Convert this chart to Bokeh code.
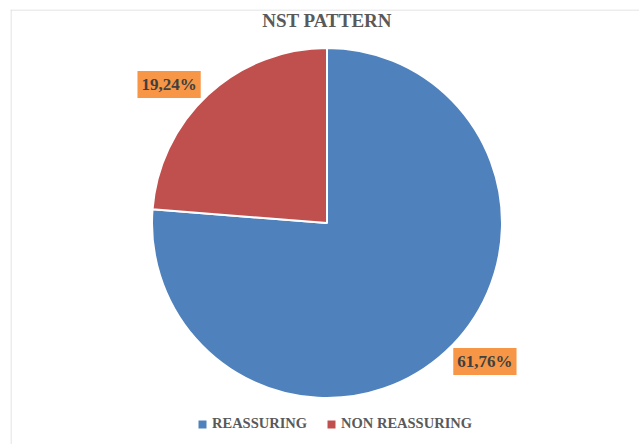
import math
from bokeh.plotting import figure
from bokeh.models import ColumnDataSource, Range1d, Span, Label, Legend, LegendItem
from bokeh.core.properties import value
from bokeh.embed import file_html
from bokeh.resources import INLINE

# ---- data ----
categories = ["REASSURING", "NON REASSURING"]
percentages = [61.76, 19.24]
label_texts = ["61,76%", "19,24%"]
colors = ["#4F81BD", "#C0504D"]
title_text = "NST PATTERN"

# ---- layout constants ----
FONT = "Liberation Serif"
W, H = 639, 444
FW, FH = 629, 435          # frame size in px (data units == px)
CX, CY, R = 316.5, 221.5, 175.0
LABEL_R = 1.2
LABEL_NUDGE = math.radians(6)

total = sum(percentages)
starts, ends, lx, ly = [], [], [], []
cur = math.pi / 2
for v in percentages:
    a0 = cur - v / total * 2 * math.pi
    starts.append(a0)
    ends.append(cur)
    mid = (a0 + cur) / 2 + LABEL_NUDGE
    lx.append(CX + LABEL_R * R * math.cos(mid))
    ly.append(CY + LABEL_R * R * math.sin(mid))
    cur = a0

src = ColumnDataSource(dict(cat=categories, val=percentages, start=starts, end=ends,
                            color=colors, lx=lx, ly=ly, label=label_texts))

p = figure(width=W, height=H, x_range=Range1d(0, FW), y_range=Range1d(0, FH),
           x_axis_type=None, y_axis_type=None, output_backend="svg",
           toolbar_location=None, min_border_left=10, min_border_top=9,
           min_border_right=0, min_border_bottom=0)
p.grid.visible = False
p.outline_line_color = None
p.background_fill_color = "white"
p.border_fill_color = "white"

p.wedge(x=CX, y=CY, radius=R, start_angle="start", end_angle="end",
        fill_color="color", line_color="white", line_width=2, source=src)

p.text(x="lx", y="ly", text="label", source=src, text_align="center",
       text_baseline="middle", text_font=value(FONT), text_font_style="bold",
       text_font_size="17px", text_color="#404040",
       background_fill_color="#F79646", padding=4)

# chart border (left and top visible)
p.add_layout(Span(location=0.5, dimension="height", line_color="#D9D9D9", line_width=1))
p.add_layout(Span(location=FH - 0.5, dimension="width", line_color="#D9D9D9", line_width=1))

p.add_layout(Label(x=CX, y=424, text=title_text, text_align="center",
                   text_baseline="middle", text_font=FONT, text_font_style="bold",
                   text_font_size="19px", text_color="#595959"))

items = []
for c, col in zip(categories, colors):
    r = p.quad(left=[math.nan], right=[math.nan], top=[math.nan], bottom=[math.nan],
               fill_color=col, line_color=None)
    items.append(LegendItem(label=c, renderers=[r]))
legend = Legend(items=items, location=(187, 12), orientation="horizontal",
                border_line_color=None, background_fill_alpha=0, padding=0, margin=0,
                spacing=19, label_standoff=5, glyph_width=10, glyph_height=10,
                label_text_font=FONT, label_text_font_size="14.5px",
                label_text_font_style="bold", label_text_color="#595959",
                label_height=16, label_text_baseline="middle")
p.add_layout(legend)

open("out.html", "w").write(file_html(p, INLINE))
